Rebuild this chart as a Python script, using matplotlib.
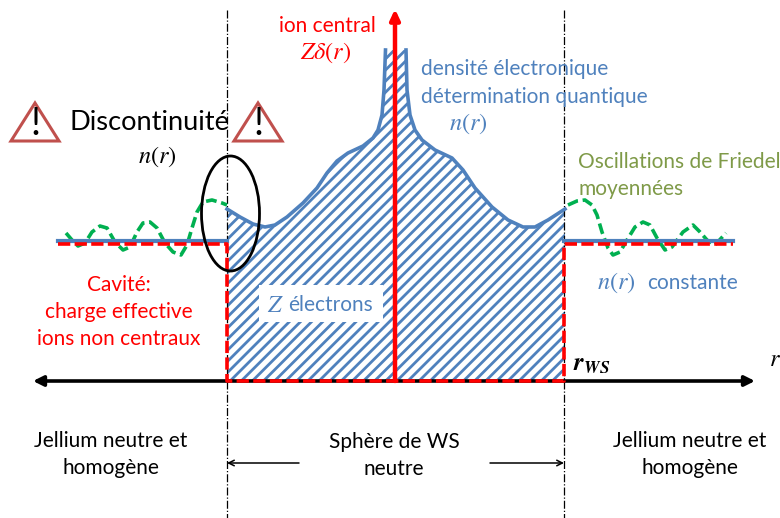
import matplotlib
matplotlib.use("Agg")
import matplotlib.pyplot as plt
from matplotlib.patches import Ellipse, Polygon, Rectangle

plt.rcParams['font.family'] = ['Lato', 'DejaVu Sans']
plt.rcParams['mathtext.fontset'] = 'stix'
plt.rcParams['hatch.linewidth'] = 2.0

BLUE = '#4f81bd'
RED = '#ff0000'
GREEN = '#00b050'
OLIVE = '#7f9a48'

curve_left_x = [227, 240, 253, 265, 275, 287, 303, 317, 327, 337, 348, 363, 373, 378, 382, 384, 385.5]
curve_left_y = [209, 217, 224, 227, 225, 217, 203, 188, 173, 161, 153, 146, 138, 130, 115, 90, 50]
curve_right_x = [406, 407, 410, 415, 422, 435, 452, 463, 475, 492, 508, 523, 535, 548, 565]
curve_right_y = [50, 90, 115, 130, 140, 150, 158, 170, 188, 207, 220, 227, 227, 220, 209]
osc_left_x = [66, 72, 78, 85, 92, 100, 107, 115, 123, 130, 137, 143, 150, 157, 165, 173, 181, 187, 192, 197, 203, 212, 222, 227]
osc_left_y = [233, 240, 246, 243, 232, 226, 228, 242, 250, 247, 232, 223, 222, 228, 243, 252, 255, 245, 228, 212, 202, 200, 203, 205]
osc_right_x = [568, 577, 585, 592, 597, 602, 608, 613, 620, 627, 635, 643, 650, 657, 665, 672, 683, 693, 700, 707, 715, 726]
osc_right_y = [205, 201, 200, 205, 215, 232, 248, 255, 252, 240, 227, 222, 225, 238, 250, 247, 232, 225, 232, 240, 245, 233]
flat_level = 241
cavity_level = 244
base_level = 381
rws_left, rws_right = 227, 564
jellium_left, jellium_right = 58, 733

fig = plt.figure(figsize=(7.8, 5.18), dpi=100)
ax = fig.add_axes([0, 0, 1, 1])
ax.set_xlim(0, 780)
ax.set_ylim(518, 0)
ax.axis('off')

# hatched electron density
curve_x = curve_left_x + curve_right_x
curve_y = curve_left_y + curve_right_y
ax.fill_between(curve_x, curve_y, base_level, facecolor='none', edgecolor=BLUE, hatch='///', linewidth=0, zorder=1)
ax.add_patch(Rectangle((259, 285), 124, 37, facecolor='white', edgecolor='none', zorder=2))
ax.plot(curve_left_x, curve_left_y, color=BLUE, lw=2.6, solid_joinstyle='round', zorder=3)
ax.plot(curve_right_x, curve_right_y, color=BLUE, lw=2.6, solid_joinstyle='round', zorder=3)

# WS sphere limits
for xv in (rws_left, rws_right):
    ax.plot([xv, xv], [10, 518], color='black', lw=0.9, ls='-.', zorder=2)

# oscillations
for xs, ys in ((osc_left_x, osc_left_y), (osc_right_x, osc_right_y)):
    ax.plot(xs, ys, color=GREEN, lw=2.6, ls=(0, (3.0, 1.3)), dash_joinstyle='round', zorder=3)

# flat density
ax.plot([jellium_left, rws_left], [flat_level] * 2, color=BLUE, lw=3, zorder=4)
ax.plot([rws_right, jellium_right], [flat_level] * 2, color=BLUE, lw=3, zorder=4)

# axis
ax.annotate('', xy=(33, base_level), xytext=(755, base_level),
            arrowprops=dict(arrowstyle='<|-|>,head_length=0.6,head_width=0.3', color='black', lw=2.6, shrinkA=0, shrinkB=0), zorder=4)

# cavity
ax.plot([jellium_left, rws_left, rws_left, rws_right, rws_right, jellium_right],
        [cavity_level, cavity_level, base_level, base_level, cavity_level, cavity_level],
        color=RED, lw=2.6, ls=(0, (3.4, 1.2)), zorder=5)

# central ion arrow
ax.annotate('', xy=(395, 9), xytext=(395, base_level),
            arrowprops=dict(arrowstyle='-|>,head_length=0.6,head_width=0.28', color=RED, lw=3.2, shrinkA=0, shrinkB=0), zorder=6)

# discontinuity mark
ax.add_patch(Ellipse((230.5, 213.5), 58, 115, facecolor='none', edgecolor='black', lw=2, zorder=7))
for cx in (35, 258):
    ax.add_patch(Polygon([(cx - 24, 141), (cx, 103), (cx + 24, 141)], closed=True, facecolor='white', edgecolor='#c0504d', lw=2.2, zorder=7))
    ax.text(cx, 124, '!', fontsize=27, ha='center', va='center', color='black', zorder=8)

# sphere width arrows
ax.annotate('', xy=(227, 463), xytext=(299, 463), arrowprops=dict(arrowstyle='->', color='black', lw=1.1, shrinkA=0, shrinkB=0))
ax.annotate('', xy=(564, 463), xytext=(490, 463), arrowprops=dict(arrowstyle='->', color='black', lw=1.1, shrinkA=0, shrinkB=0))

FS = 15.0
MS = 17.5
def label(x, y, s, color='black', fs=FS, ha='center', **kw):
    ax.text(x, y, s, color=color, fontsize=fs, ha=ha, va='center', zorder=9, **kw)

label(327, 26, 'ion central', RED)
label(326, 53, r'$Z\delta(r)$', RED, MS)
label(421, 69, 'densité électronique', BLUE, ha='left')
label(421, 97, 'détermination quantique', BLUE, ha='left')
label(468, 124, r'$n(r)$', BLUE, MS)
label(149, 123, 'Discontinuité', 'black', 19.6)
label(157, 157, r'$n(r)$', 'black', MS)
label(578, 162, 'Oscillations de Friedel', OLIVE, ha='left')
label(578, 189, 'moyennées', OLIVE, ha='left')
label(597, 283, r'$n(r)$', BLUE, MS, ha='left')
label(647, 283, 'constante', BLUE, ha='left')
label(119, 285, 'Cavité:', RED)
label(119, 312, 'charge effective', RED)
label(119, 339, 'ions non centraux', RED)
label(275, 305, r'$Z$', BLUE, MS)
label(288, 305, 'électrons', BLUE, ha='left')
label(592, 364, r'$\mathbfit{r_{WS}}$', 'black', 18)
label(775, 360, r'$r$', 'black', MS)
label(111, 441, 'Jellium neutre et', 'black')
label(111, 468, 'homogène', 'black')
label(394, 442, 'Sphère de WS', 'black')
label(394, 469, 'neutre', 'black')
label(690, 441, 'Jellium neutre et', 'black')
label(690, 468, 'homogène', 'black')

fig.savefig('out.png', dpi=100)
